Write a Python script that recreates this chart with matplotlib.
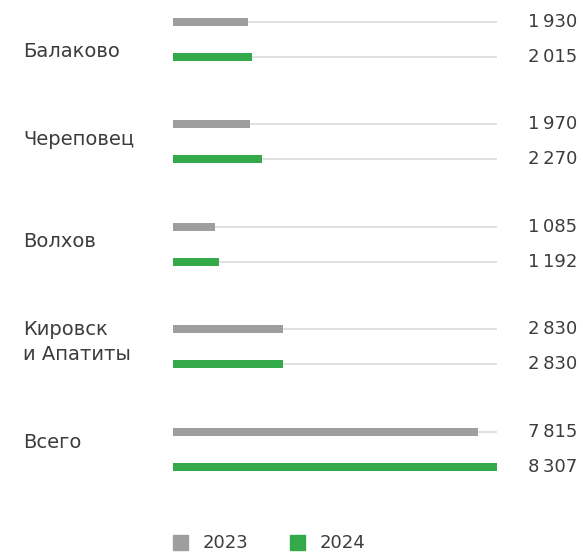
import numpy as np
import matplotlib
matplotlib.use('Agg')
import matplotlib.pyplot as plt

# production by site, thousand tonnes
sites = ['Балаково', 'Череповец', 'Волхов', 'Кировск\nи Апатиты', 'Всего']
v2023 = [1930, 1970, 1085, 2830, 7815]
v2024 = [2015, 2270, 1192, 2830, 8307]
years = ['2023', '2024']

GREY = '#9e9e9e'
GREEN = '#34a94a'
TXT = '#3c3c3c'
LINE = '#d9d9d9'

plt.rcParams['font.family'] = ['DejaVu Sans']

W, H = 583, 553
fig = plt.figure(figsize=(W/100, H/100), dpi=100)

# bar area spans x=173..497 px, y mapped so that groups sit every ~102 px
x0, x1 = 173, 497
top, step = 39.5, 102.4
ax = fig.add_axes([x0/W, 0, (x1-x0)/W, 1])
xmax = max(v2024 + v2023)
ax.set_xlim(0, xmax)
ax.set_ylim((H-top)/step, -top/step)
ax.axis('off')

off = 17.5/step
bh = 8/step
ypos = np.arange(len(sites))


def fmt(v):
    s = f'{v:,}'
    return s.replace(',', '\u2009')


for vals, dy, col in [(v2023, -off, GREY), (v2024, off, GREEN)]:
    for i, v in enumerate(vals):
        y = ypos[i] + dy
        ax.plot([0, xmax], [y, y], color=LINE, lw=1.1, zorder=1, solid_capstyle='butt')
        ax.barh(y, v, height=bh, color=col, zorder=2, linewidth=0)
        ax.annotate(fmt(v), xy=(xmax, y), xytext=(22, 0), textcoords='offset points',
                    ha='left', va='center', fontsize=13, color=TXT, annotation_clip=False)

# site names, placed by baseline (px from top)
base = [57, 145, 247, 335, 448]
for s, b in zip(sites, base):
    for k, line in enumerate(s.split('\n')):
        fig.text(23/W, 1 - (b + 25*k)/H, line, ha='left', va='baseline',
                 fontsize=14, color=TXT)

# legend along the bottom
for xs, xt, col, lab in [(173, 203, GREY, years[0]), (290, 320, GREEN, years[1])]:
    fig.patches.append(plt.Rectangle((xs/W, 1 - 550/H), 15/W, 15/H, color=col,
                                     transform=fig.transFigure, figure=fig))
    fig.text(xt/W, 1 - 548/H, lab, ha='left', va='baseline', fontsize=13, color=TXT)

fig.savefig('out.png', dpi=100, facecolor='white')
